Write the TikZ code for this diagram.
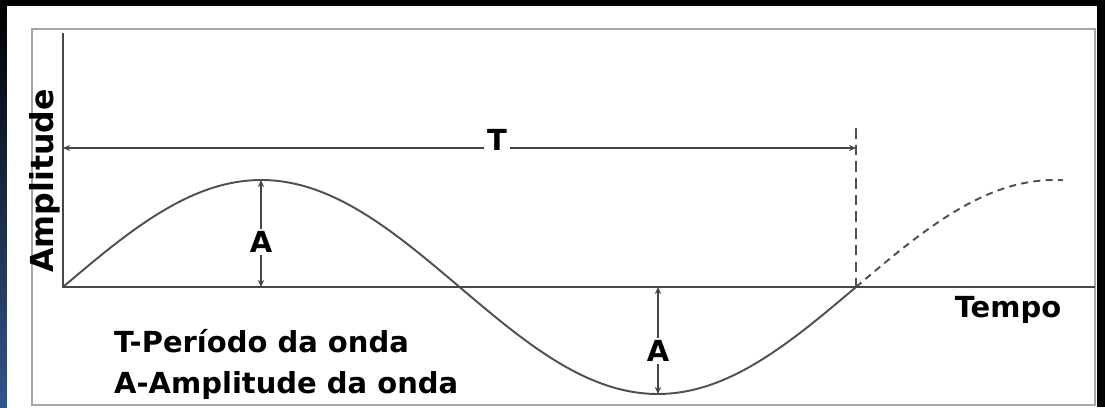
\documentclass[tikz,border=0pt]{standalone}
\usepackage{fontspec}
\newfontfamily\labelfont{DejaVu Sans}
\usetikzlibrary{arrows.meta,positioning}
\definecolor{axisgray}{RGB}{70,70,70}
\definecolor{wavegray}{RGB}{80,80,80}
\definecolor{framegray}{RGB}{165,165,165}
\definecolor{edgeblue}{RGB}{50,85,140}
\tikzset{
  axisline/.style={line width=1.7pt,draw=axisgray},
  wave/.style={line width=1.1pt,draw=wavegray},
  wavedash/.style={line width=1.1pt,draw=wavegray,dash pattern=on 4pt off 3pt},
  guide/.style={line width=0.9pt,draw=wavegray,dash pattern=on 6pt off 3.5pt},
  dimarrow/.style={{Stealth[length=4pt,width=3.5pt]}-{Stealth[length=4pt,width=3.5pt]},line width=0.9pt,draw=axisgray}
}

\begin{document}
\begin{tikzpicture}[
  x=0.02cm,y=0.02cm,
  lbl/.style={font=\labelfont\bfseries\fontsize{16.5}{20}\selectfont,text=black},
  dimlabel/.style={lbl,fill=white,inner sep=1.5pt}
]
  \def\per{793}
  \def\amp{107}

  \useasboundingbox (0,0) rectangle (1105,407);
  \fill[black] (0,0) rectangle (1105,407);
  \shade[top color=black,bottom color=edgeblue] (0,0) rectangle (7,407);
  \fill[white] (7,0) rectangle (1097,401);
  \draw[framegray,line width=1.2pt] (32,2) rectangle (1095,378);

  \coordinate (O)    at (63,120);
  \coordinate (yTop) at (63,374);
  \coordinate (xEnd) at (1095,120);

  \coordinate (Tl) at (63,259);
  \coordinate (Tr) at (856,259);
  \coordinate (Tg) at (856,279);
  \coordinate (Z2) at (856,120);

  \coordinate (Pk)  at (261,227);
  \coordinate (PkB) at (261,120);
  \coordinate (Tr0) at (658,13);
  \coordinate (TrB) at (658,120);

  % wave
  \draw[wave] plot[domain=0:\per,samples=120,smooth]
    ({63+\x},{120+\amp*sin(\x/\per*360)});
  \draw[wavedash] plot[domain=\per:1000,samples=30,smooth]
    ({63+\x},{120+\amp*sin(\x/\per*360)});

  \draw[guide] (Tg)--(Z2);

  \draw[axisline] (yTop)--(O)--(xEnd);

  \draw[dimarrow] (Tl)--(Tr);
  \draw[dimarrow] (PkB)--(Pk);
  \draw[dimarrow] (TrB)--(Tr0);

  \node[dimlabel] (Tlab) at (497,267) {T};
  \node[dimlabel] (Alab) at (261,165) {A};
  \node[dimlabel] (Blab) at (658,56) {A};

  \node[lbl,rotate=90,font=\labelfont\bfseries\fontsize{18}{20}\selectfont] (ylab) at (45,226) {Amplitude};
  \node[lbl,anchor=base] (xlab) at (1008,90) {Tempo};

  \node[lbl,anchor=base west] (leg1) at (108,55) {T-Período da onda};
  \node[lbl,anchor=base west] (leg2) at (108,14) {A-Amplitude da onda};

\end{tikzpicture}
\end{document}
